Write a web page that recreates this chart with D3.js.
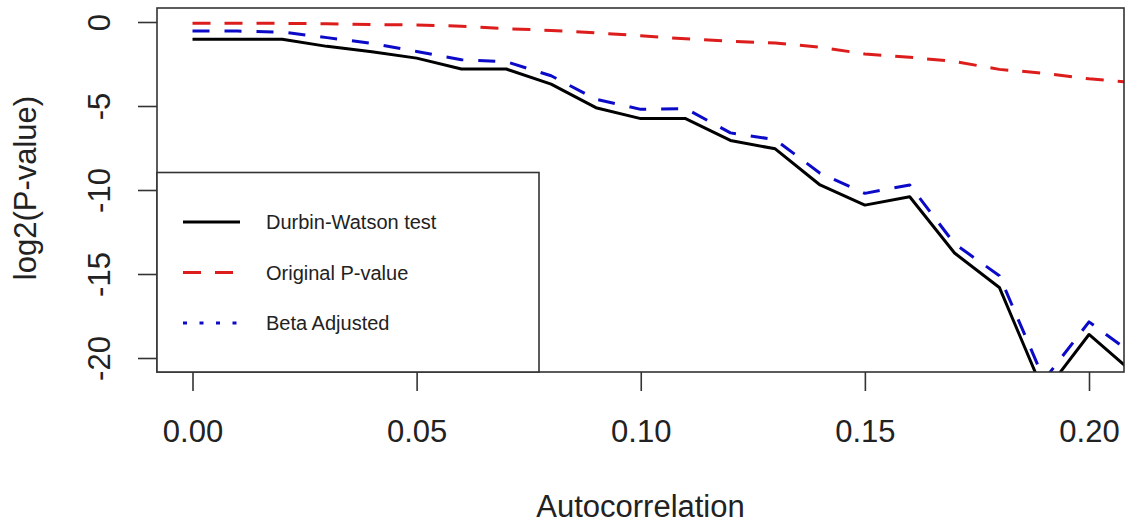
<!DOCTYPE html>
<html>
<head>
<meta charset="utf-8">
<script src="https://cdn.jsdelivr.net/npm/d3@7"></script>
<style>
  body { margin: 0; background: #fff; }
  text { font-family: "Liberation Sans", Arial, sans-serif; fill: #222; }
</style>
</head>
<body>
<svg id="chart" width="1130" height="529"></svg>
<script>
// autocorrelation levels on the x axis
var autocorr = [0.00, 0.01, 0.02, 0.03, 0.04, 0.05, 0.06, 0.07, 0.08, 0.09, 0.10,
                0.11, 0.12, 0.13, 0.14, 0.15, 0.16, 0.17, 0.18, 0.19, 0.20, 0.21];
// log2(P-value) per method
var durbin_watson = [-1.03, -1.03, -1.03, -1.45, -1.77, -2.15, -2.8, -2.8, -3.7, -5.1, -5.75,
                     -5.75, -7.05, -7.55, -9.7, -10.9, -10.4, -13.75, -15.8, -22.1, -18.6, -20.9];
var original_p = [-0.08, -0.08, -0.08, -0.1, -0.15, -0.18, -0.25, -0.4, -0.5, -0.65, -0.82,
                  -1.0, -1.15, -1.25, -1.5, -1.9, -2.1, -2.35, -2.82, -3.05, -3.38, -3.6];
var beta_adjusted = [-0.54, -0.54, -0.6, -0.93, -1.27, -1.75, -2.25, -2.36, -3.2, -4.6, -5.2,
                     -5.15, -6.6, -7.0, -9.0, -10.2, -9.7, -13.2, -15.1, -21.3, -17.85, -19.8];

var x_ticks = [0, 0.05, 0.10, 0.15, 0.20];
var y_ticks = [0, -5, -10, -15, -20];
var legend_labels = ["Durbin-Watson test", "Original P-value", "Beta Adjusted"];

var plot = {left: 157, right: 1124, top: 8, bottom: 372};

var svg = d3.select("#chart");

var x = d3.scaleLinear().domain([0, 0.2]).range([192.5, 1089]);
var y = d3.scaleLinear().domain([-20, 0]).range([358, 22]);

svg.append("clipPath").attr("id", "clip")
  .append("rect")
  .attr("x", plot.left).attr("y", plot.top)
  .attr("width", plot.right - plot.left).attr("height", plot.bottom - plot.top);

// lines
var series = [
  {values: durbin_watson, color: "#000", dash: null},
  {values: original_p, color: "#dd1c1c", dash: "18,14"},
  {values: beta_adjusted, color: "#0a0ac8", dash: "17,15"}
];

var line = d3.line()
  .x(function(d) {return x(d[0]);})
  .y(function(d) {return y(d[1]);});

var lines_g = svg.append("g").attr("clip-path", "url(#clip)");
series.forEach(function(s)
{
  lines_g.append("path")
    .datum(autocorr.map(function(a, i) {return [a, s.values[i]];}))
    .attr("d", line)
    .attr("fill", "none")
    .attr("stroke", s.color)
    .attr("stroke-width", 3)
    .attr("stroke-dasharray", s.dash)
    .attr("stroke-linejoin", "round");
});

// axes
var x_axis = svg.append("g")
  .attr("transform", "translate(0," + plot.bottom + ")")
  .call(d3.axisBottom(x).tickValues(x_ticks).tickSize(19).tickPadding(0)
        .tickFormat(d3.format(".2f")));
x_axis.select(".domain").remove();
x_axis.selectAll("line").attr("stroke", "#333").attr("stroke-width", 1.6);
x_axis.selectAll("text").remove();
x_axis.selectAll(".tick").append("text")
  .attr("y", 70).attr("text-anchor", "middle")
  .style("font-size", "31px")
  .text(function(d) {return d3.format(".2f")(d);});

var y_axis = svg.append("g")
  .attr("transform", "translate(" + plot.left + ",0)")
  .call(d3.axisLeft(y).tickValues(y_ticks).tickSize(19));
y_axis.select(".domain").remove();
y_axis.selectAll("line").attr("stroke", "#333").attr("stroke-width", 1.6);
y_axis.selectAll("text").remove();
y_axis.selectAll(".tick").append("text")
  .attr("transform", "translate(-47,0) rotate(-90)")
  .attr("text-anchor", "middle")
  .style("font-size", "31px")
  .text(function(d) {return d;});

// box
svg.append("rect")
  .attr("x", plot.left).attr("y", plot.top)
  .attr("width", plot.right - plot.left).attr("height", plot.bottom - plot.top)
  .attr("fill", "none").attr("stroke", "#333").attr("stroke-width", 1.6);

// axis titles
svg.append("text")
  .attr("x", (plot.left + plot.right) / 2).attr("y", 517)
  .attr("text-anchor", "middle").style("font-size", "31px")
  .text("Autocorrelation");
svg.append("text")
  .attr("transform", "translate(36,188) rotate(-90)")
  .attr("text-anchor", "middle").style("font-size", "31px")
  .text("log2(P-value)");

// legend
var legend = svg.append("g");
legend.append("rect")
  .attr("x", plot.left).attr("y", 172.5)
  .attr("width", 539 - plot.left).attr("height", plot.bottom - 172.5)
  .attr("fill", "#fff").attr("stroke", "#333").attr("stroke-width", 1.6);

var legend_styles = [
  {color: "#000", dash: null, width: 3.2},
  {color: "#dd1c1c", dash: "18,14", width: 3.2},
  {color: "#0a0ac8", dash: "4,12.5", width: 3.2}
];
var legend_rows = legend.selectAll(".row")
  .data(legend_labels)
  .enter().append("g")
  .attr("transform", function(d, i) {return "translate(0," + (222 + i * 50.5) + ")";});
legend_rows.append("line")
  .attr("x1", 183).attr("x2", 240)
  .attr("stroke", function(d, i) {return legend_styles[i].color;})
  .attr("stroke-width", function(d, i) {return legend_styles[i].width;})
  .attr("stroke-dasharray", function(d, i) {return legend_styles[i].dash;});
legend_rows.append("text")
  .attr("x", 266).attr("y", 7)
  .style("font-size", "20px")
  .text(function(d) {return d;});
</script>
</body>
</html>
